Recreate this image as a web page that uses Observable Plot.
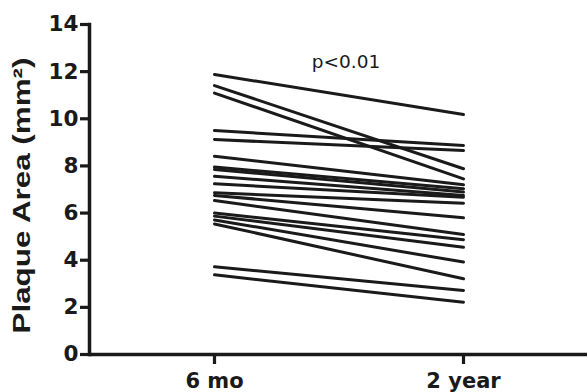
<!DOCTYPE html>
<html>
<head>
<meta charset="utf-8">
<script src="https://cdn.jsdelivr.net/npm/d3@7"></script>
<script src="https://cdn.jsdelivr.net/npm/@observablehq/plot@0.6"></script>
<style>
  html, body { margin: 0; padding: 0; background: #fff; }
</style>
</head>
<body>
<div id="chart"></div>
<script>
const timepoints = ["6 mo", "2 year"];
const sixMonth = [11.88, 11.41, 11.09, 9.50, 9.12, 8.41, 7.95, 7.85, 7.56, 7.24, 6.86, 6.75, 6.53, 6.00, 5.87, 5.71, 5.54, 3.72, 3.38];
const twoYear  = [10.18, 7.88, 7.45, 8.87, 8.65, 7.20, 7.03, 6.89, 6.75, 6.67, 6.42, 5.80, 5.09, 4.87, 4.55, 3.92, 3.21, 2.72, 2.22];
const yTicks = [0, 2, 4, 6, 8, 10, 12, 14];
const yTitle = "Plaque Area (mm²)";
const annotation = "p<0.01";

const rows = [];
sixMonth.forEach((v, i) => {
  rows.push({id: i, time: timepoints[0], area: v});
  rows.push({id: i, time: timepoints[1], area: twoYear[i]});
});

const ink = "#1a1a1a";
const chart = Plot.plot({
  width: 587,
  height: 392,
  marginLeft: 89,
  marginRight: 0,
  marginTop: 24,
  marginBottom: 38,
  style: {fontFamily: "'DejaVu Sans', sans-serif", background: "#fff"},
  x: {type: "point", domain: timepoints, padding: 0.5},
  y: {domain: [0, 14]},
  marks: [
    Plot.line(rows, {x: "time", y: "area", z: "id", stroke: ink, strokeWidth: 3}),
    Plot.ruleY([0], {stroke: ink, strokeWidth: 3.5}),
    Plot.frame({anchor: "left", stroke: ink, strokeWidth: 3.5}),
    Plot.axisY({ticks: yTicks, tickSize: 9, tickPadding: 2, fontSize: 21.5, fontWeight: "bold", label: null, stroke: ink, strokeWidth: 3.2, fill: ink}),
    Plot.axisX({tickSize: 10, tickPadding: 9, fontSize: 21, fontWeight: "bold", label: null, stroke: ink, strokeWidth: 3.2, fill: ink}),
    Plot.text([yTitle], {text: d => d, frameAnchor: "left", textAnchor: "middle", lineAnchor: "middle", rotate: -90, dx: -67, dy: 6, fontSize: 24, fontWeight: "bold", fontFamily: "'Liberation Sans', Arial, sans-serif", fill: ink}),
    Plot.text([annotation], {text: d => d, frameAnchor: "middle", y: 12.39, textAnchor: "middle", lineAnchor: "middle", dx: 7.5, fontSize: 18.5, fill: ink})
  ]
});
// stretch the y-axis title along its direction to match the reference's elongated lettering
d3.select(chart).selectAll("text").filter(function() { return this.textContent === yTitle; })
  .attr("textLength", 276).attr("lengthAdjust", "spacingAndGlyphs");
document.getElementById("chart").appendChild(chart);
</script>
</body>
</html>
